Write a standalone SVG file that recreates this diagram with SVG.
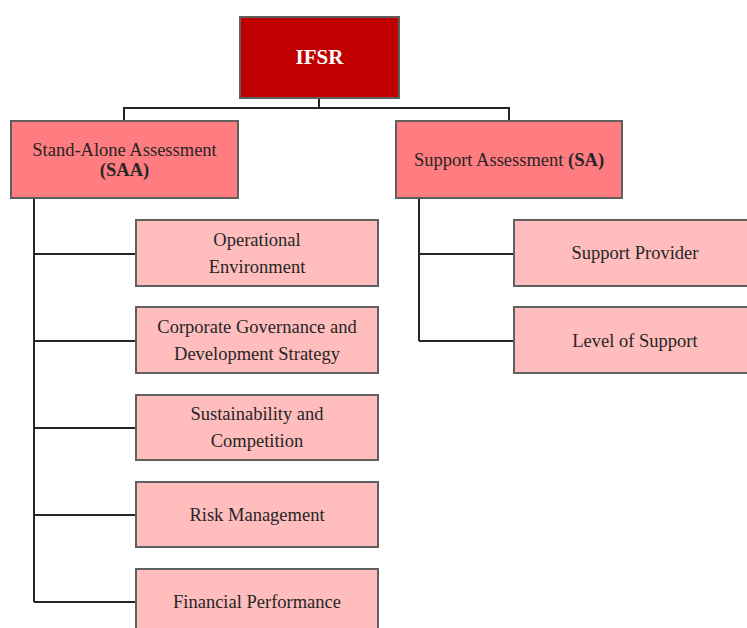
<svg xmlns="http://www.w3.org/2000/svg" width="747" height="628" viewBox="0 0 747 628">
<style>
.box{stroke:#5f5f5f;stroke-width:2}
.root{fill:#C00000}
.mid{fill:#FF7C80}
.leaf{fill:#FFBDBD}
.t{font-family:"Liberation Serif","Times New Roman",serif;font-size:18.5px;fill:#262626;text-anchor:middle}
.b{font-weight:bold}
.c{fill:none;stroke:#262626;stroke-width:2}
</style>
<rect width="747" height="628" fill="#fff"/>
<g id="connectors">
<path class="c" d="M319,98 V108 M124,121 V108 H509 V121"/>
<path class="c" d="M34,198 V602 M34,254 H136 M34,341 H136 M34,428 H136 M34,515 H136 M34,602 H136"/>
<path class="c" d="M419,198 V341 M419,254 H514 M419,341 H514"/>
</g>
<g id="ifsr"><rect class="box root" x="240" y="17" width="159" height="81"/><text class="t b" x="319.5" y="64" style="fill:#fff;font-size:21px">IFSR</text></g>
<g id="saa"><rect class="box mid" x="11" y="121" width="227" height="77"/><text class="t" x="124.5" y="156">Stand-Alone Assessment</text><text class="t b" x="124.5" y="176">(SAA)</text></g>
<g id="sa"><rect class="box mid" x="396" y="121" width="226" height="77"/><text class="t" x="509" y="166">Support Assessment <tspan class="b">(SA)</tspan></text></g>
<g id="op"><rect class="box leaf" x="136" y="220" width="242" height="66"/><text class="t" x="257" y="246">Operational</text><text class="t" x="257" y="273">Environment</text></g>
<g id="cg"><rect class="box leaf" x="136" y="307" width="242" height="66"/><text class="t" x="257" y="333">Corporate Governance and</text><text class="t" x="257" y="360">Development Strategy</text></g>
<g id="sc"><rect class="box leaf" x="136" y="395" width="242" height="65"/><text class="t" x="257" y="420">Sustainability and</text><text class="t" x="257" y="447">Competition</text></g>
<g id="rm"><rect class="box leaf" x="136" y="482" width="242" height="65"/><text class="t" x="257" y="521">Risk Management</text></g>
<g id="fp"><rect class="box leaf" x="136" y="569" width="242" height="70"/><text class="t" x="257" y="608">Financial Performance</text></g>
<g id="sp"><rect class="box leaf" x="514" y="220" width="245" height="66"/><text class="t" x="635" y="259">Support Provider</text></g>
<g id="ls"><rect class="box leaf" x="514" y="307" width="245" height="66"/><text class="t" x="635" y="347">Level of Support</text></g>
</svg>
